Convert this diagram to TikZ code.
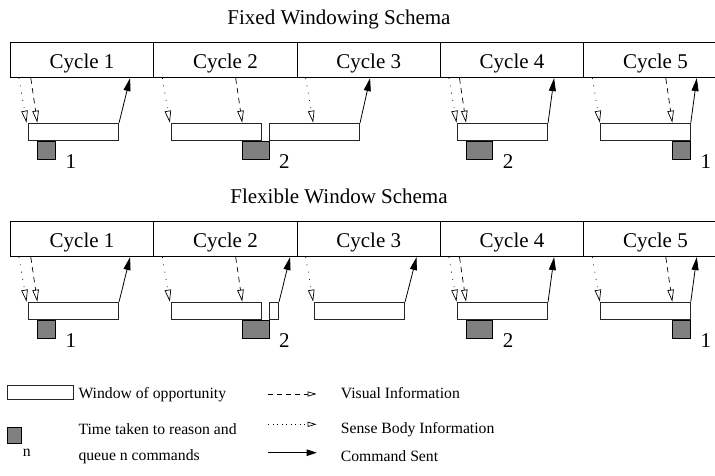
\documentclass[tikz,border=0pt]{standalone}
\usepackage{fontspec}
\setmainfont{Liberation Serif}
\usetikzlibrary{arrows.meta,positioning,calc}

\begin{document}
\begin{tikzpicture}[
        x=1pt, y=-1pt,
        font=\fontsize{21}{25}\selectfont,
        cycle cell/.style ={draw, line width=0.8pt, minimum width=143.33pt, inner sep=0pt,
                            text height=26.2pt, text depth=8.8pt},
        window/.style     ={draw=black!85, line width=0.8pt, fill=white, inner sep=0pt,
                            minimum width=90pt, minimum height=17.3pt},
        reason/.style     ={draw, line width=0.8pt, fill=black!50, inner sep=0pt,
                            minimum width=#1, minimum height=17.7pt},
        count/.style      ={inner sep=0pt, anchor=base west},
        sense/.style      ={line width=0.7pt, dash pattern=on 0.9pt off 6.5pt,
                            -{Triangle[open, length=12pt, width=6.5pt]}},
        visual/.style     ={line width=0.7pt, dash pattern=on 5.5pt off 4.5pt,
                            -{Triangle[open, length=12pt, width=6.5pt]}},
        command/.style    ={line width=0.8pt, -{Triangle[length=13pt, width=7pt]}},
        key/.style        ={font=\fontsize{15.7}{26.4}\selectfont, inner sep=0pt,
                            anchor=base west}
    ]
    \clip (0,0) rectangle (715,475);
    %% --- Fixed windowing: one window per cycle ---------------------------
    \begin{scope}
        \node[anchor=base] (ftitle) at (339,24) {Fixed Windowing Schema};
        \foreach \i in {1,...,5} {
                \node[cycle cell, anchor=north west] (FC\i) at ({10+143.33*(\i-1)},42.3) {Cycle \i};
            }
        \foreach \i/\x in {1/28.3, 2/171, 3/269.3, 4/457.3, 5/600} {
                \node[window, anchor=north west] (FW\i) at (\x,122.7) {};
            }
        \node[reason=17.7pt, anchor=north west] (FR1) at ([xshift=9]FW1.south west) {};
        \node[reason=26.3pt, anchor=north east] (FR2) at (FW3.south west) {};
        \node[reason=26.3pt, anchor=north west] (FR4) at ([xshift=8.7]FW4.south west) {};
        \node[reason=17.7pt, anchor=north east] (FR5) at (FW5.south east) {};
        \foreach \r/\n in {1/1, 2/2, 4/2, 5/1} {
                \node[count] (FN\r) at ([shift={(9.5,9)}]FR\r.south east) {\n};
            }
        % sense body info at the start of each cycle
        \foreach \i in {1,...,5} {
                \draw[sense] ([xshift=9]FC\i.south west) -- ([xshift=16.5]FC\i.south west |- FW1.north);
            }
        % visual info arrives when reasoning starts
        \foreach \i/\r in {1/1, 2/2, 4/4, 5/5} {
                \draw[visual] ([xshift=-6.5]FR\r.north west |- FC\i.south) -- (FR\r.north west |- FW1.north);
            }
        \draw[command] (FW1.north east) -- ([xshift=11]FW1.north east |- FC1.south);
        \draw[command] (FW3.north east) -- ([xshift=10]FW3.north east |- FC3.south);
        \draw[command] (FW4.north east) -- ([xshift=6]FW4.north east |- FC4.south);
        \draw[command] (FW5.north east) -- ([xshift=6]FW5.north east |- FC5.south);
    \end{scope}
    %% --- Flexible window: the window may stretch over a cycle ------------
    \begin{scope}[shift={(0,179)}]
        \node[anchor=base] (xtitle) at (339,24) {Flexible Window Schema};
        \foreach \i in {1,...,5} {
                \node[cycle cell, anchor=north west] (XC\i) at ({10+143.33*(\i-1)},42.3) {Cycle \i};
            }
        \foreach \i/\x in {1/28.3, 2/171, 3/314.3, 4/457.3, 5/600} {
                \node[window, anchor=north west] (XW\i) at (\x,122.7) {};
            }
        \node[window, minimum width=9pt, anchor=north west] (XS) at (269.3,122.7) {};
        \node[reason=17.7pt, anchor=north west] (XR1) at ([xshift=9]XW1.south west) {};
        \node[reason=26.3pt, anchor=north east] (XR2) at (XS.south west) {};
        \node[reason=26.3pt, anchor=north west] (XR4) at ([xshift=8.7]XW4.south west) {};
        \node[reason=17.7pt, anchor=north east] (XR5) at (XW5.south east) {};
        \foreach \r/\n in {1/1, 2/2, 4/2, 5/1} {
                \node[count] (XN\r) at ([shift={(9.5,9)}]XR\r.south east) {\n};
            }
        \foreach \i in {1,...,5} {
                \draw[sense] ([xshift=9]XC\i.south west) -- ([xshift=16.5]XC\i.south west |- XW1.north);
            }
        \foreach \i/\r in {1/1, 2/2, 4/4, 5/5} {
                \draw[visual] ([xshift=-6.5]XR\r.north west |- XC\i.south) -- (XR\r.north west |- XW1.north);
            }
        \draw[command] (XW1.north east) -- ([xshift=11]XW1.north east |- XC1.south);
        \draw[command] (XS.north east) -- ([xshift=11]XS.north east |- XC2.south);
        \draw[command] (XW3.north east) -- ([xshift=11.5]XW3.north east |- XC3.south);
        \draw[command] (XW4.north east) -- ([xshift=6]XW4.north east |- XC4.south);
        \draw[command] (XW5.north east) -- ([xshift=6]XW5.north east |- XC5.south);
    \end{scope}
    %% --- Key ---------------------------------------------------------------
    \node[window, minimum width=65.4pt, minimum height=14.3pt, anchor=north west] (keywin) at (7.3,385) {};
    \node[key] (keywintext) at (78.3,398.3) {Window of opportunity};
    \node[reason=13.4pt, minimum height=16.6pt, anchor=north west] (keyreason) at (7.3,426.7) {};
    \node[key] (keyn) at (22.7,456) {n};
    \node[key] (keyreasontext) at (78.3,434.3) {Time taken to reason and};
    \node[key] (keyreasontext2) at (78.3,460.7) {queue n commands};
    \coordinate (kv0) at (268.3,394);
    \coordinate (kv1) at (316.7,394);
    \coordinate (ks0) at (268.3,424.3);
    \coordinate (ks1) at (316.7,424.3);
    \coordinate (kc0) at (268.3,452.7);
    \coordinate (kc1) at (316.7,452.7);
    \draw[visual, dash pattern=on 5pt off 4pt, -{Triangle[open, length=9pt, width=5pt]}] (kv0) -- (kv1);
    \draw[sense, dash pattern=on 0.9pt off 3.6pt, -{Triangle[open, length=9pt, width=5pt]}] (ks0) -- (ks1);
    \draw[command, -{Triangle[length=10pt, width=6.5pt]}] (kc0) -- (kc1);
    \node[key] (kvtext) at (340.7,398.3) {Visual Information};
    \node[key] (kstext) at (340.7,433.3) {Sense Body Information};
    \node[key] (kctext) at (340.7,461.7) {Command Sent};
\end{tikzpicture}
\end{document}
